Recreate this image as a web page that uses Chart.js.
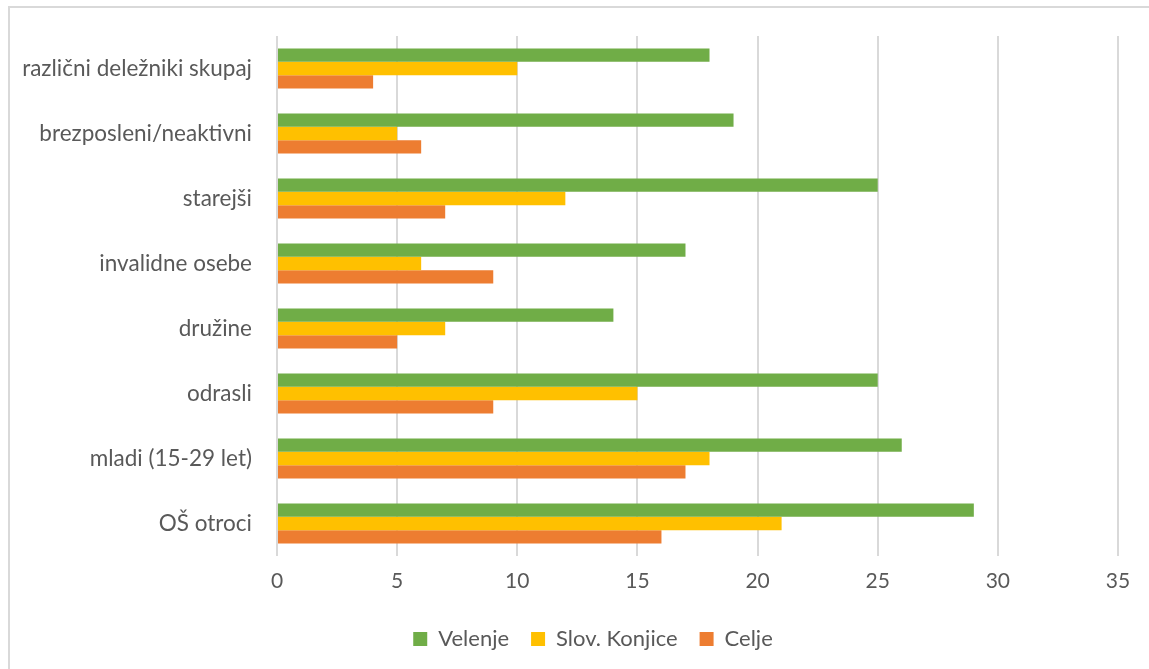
<!DOCTYPE html>
<html>
<head>
<meta charset="utf-8">
<script src="https://cdn.jsdelivr.net/npm/chart.js@4"></script>
<style>
  html, body { margin: 0; padding: 0; background: #fff; overflow: hidden; }
  #frame { position: absolute; left: 8px; top: 6px; width: 1160px; height: 690px; border: 2px solid #d9d9d9; }
  #wrap { position: absolute; left: 0; top: 0; width: 1149px; height: 669px; }
</style>
</head>
<body>
<div id="frame"></div>
<div id="wrap"><canvas id="chart"></canvas></div>
<script>
// Categories, top to bottom
const categories = [
  'različni deležniki skupaj',
  'brezposleni/neaktivni',
  'starejši',
  'invalidne osebe',
  'družine',
  'odrasli',
  'mladi (15-29 let)',
  'OŠ otroci'
];

const velenje      = [18, 19, 25, 17, 14, 25, 26, 29];
const slovKonjice  = [10,  5, 12,  6,  7, 15, 18, 21];
const celje        = [ 4,  6,  7,  9,  5,  9, 17, 16];

const xTicks = [0, 5, 10, 15, 20, 25, 30, 35];

const textColor = '#595959';
const fontFamily = 'Lato, "Open Sans", sans-serif';

// legend in the reference sits a bit right of the plot centre
const shiftLegend = {
  id: 'shiftLegend',
  afterLayout(chart) {
    chart.legend.left += 34;
    chart.legend.right += 34;
  }
};

new Chart(document.getElementById('chart'), {
  type: 'bar',
  data: {
    labels: categories,
    datasets: [
      { label: 'Velenje', data: velenje, backgroundColor: '#70AD47' },
      { label: 'Slov. Konjice', data: slovKonjice, backgroundColor: '#FFC000' },
      { label: 'Celje', data: celje, backgroundColor: '#ED7D31' }
    ]
  },
  plugins: [shiftLegend],
  options: {
    indexAxis: 'y',
    responsive: true,
    maintainAspectRatio: false,
    animation: false,
    categoryPercentage: 0.615,
    barPercentage: 1,
    layout: { padding: { top: 36, right: 31, bottom: 9, left: 0 } },
    plugins: {
      tooltip: { enabled: false },
      legend: {
        position: 'bottom',
        labels: {
          color: textColor,
          font: { family: fontFamily, size: 22 },
          boxWidth: 14,
          boxHeight: 14,
          padding: 22
        }
      }
    },
    scales: {
      x: {
        min: 0,
        max: 35,
        afterBuildTicks: scale => { scale.ticks = xTicks.map(v => ({ value: v })); },
        afterFit: scale => { scale.height = 50; },
        grid: { color: '#d9d9d9', lineWidth: 2, drawTicks: false },
        border: { display: false },
        ticks: { color: textColor, font: { family: fontFamily, size: 21 }, padding: 13 }
      },
      y: {
        afterFit: scale => { scale.width = 277; },
        grid: { display: false },
        border: { display: false },
        ticks: { color: textColor, font: { family: fontFamily, size: 22.5 }, padding: 17 }
      }
    }
  }
});
</script>
</body>
</html>
